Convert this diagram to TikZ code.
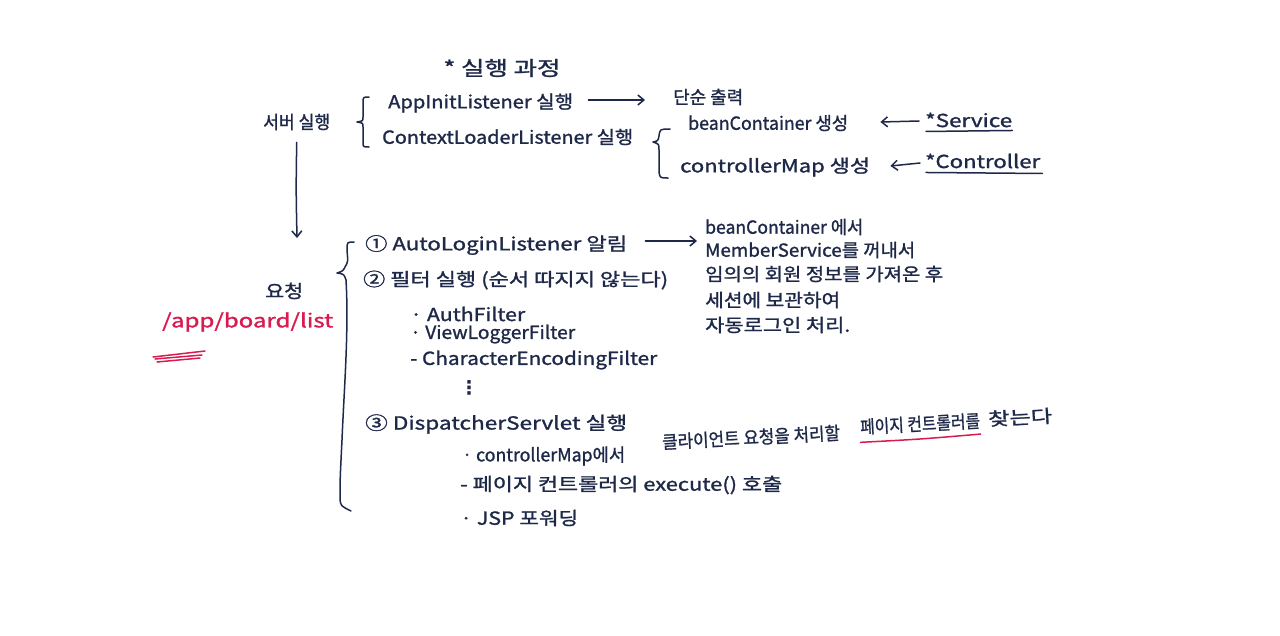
\documentclass[tikz,border=0pt]{standalone}
\usepackage{fontspec}
\setmainfont{Noto Sans CJK KR}[FakeBold=1.2]
\newfontfamily\dejavu{DejaVu Sans}
\usetikzlibrary{arrows.meta}
\definecolor{ink}{HTML}{1E2848}
\definecolor{pen}{HTML}{D81B50}
\newcommand{\fw}[2]{\resizebox{#1pt}{\height}{#2}}
\begin{document}
\begin{tikzpicture}[x=1pt,y=-1pt,
  every node/.style={inner sep=0pt},
  hw/.style={text=ink,font=\fontsize{18}{20}\selectfont,anchor=west},
  hwr/.style={text=pen,font=\fontsize{19}{21}\selectfont,anchor=west},
  stroke/.style={draw=ink,line width=1.5pt,line cap=round,line join=round},
  redstroke/.style={draw=pen,line width=1.5pt,line cap=round},
  arr/.style={stroke,-{Straight Barb[length=6pt,width=10pt]}}]
\useasboundingbox[fill=white] (0,0) rectangle (1280,635);
% title
\node[hw,anchor=center,font=\fontsize{20}{22}\selectfont] (title) at (502,68) {\fw{117}{* 실행 과정}};
% server start
\node[hw] (server) at (263,122) {\fw{67}{서버 실행}};
\node[hw] (appinit) at (388,103) {\fw{185}{AppInitListener 실행}};
\node[hw] (simple) at (673,97) {\fw{70}{단순 출력}};
\node[hw] (ctx) at (382,137) {\fw{251}{ContextLoaderListener 실행}};
\node[hw] (bean) at (688,123) {\fw{160}{beanContainer 생성}};
\node[hw] (svc) at (925,120) {\fw{87}{*Service}};
\node[hw] (cmap) at (680,167) {\fw{190}{controllerMap 생성}};
\node[hw] (ctrl) at (925,161) {\fw{115}{*Controller}};
\draw[stroke] ([xshift=1pt,yshift=-4pt]svc.south west) -- ([yshift=-3pt]svc.south east);
\draw[stroke] ([xshift=1pt,yshift=-4pt]ctrl.south west) -- ([xshift=2pt,yshift=-5pt]ctrl.south east);
% braces top
\draw[stroke] (369,97) .. controls (363,97) .. (363,103) -- (363,117) .. controls (363,121) .. (357,122) .. controls (363,123) .. (363,127) -- (363,142) .. controls (363,147) .. (369,147);
\draw[stroke] (670,129) .. controls (660,129) .. (659,136) .. controls (658,141) .. (653,142) .. controls (659,144) .. (659,150) -- (659,172) .. controls (660,178) .. (668,178);
% arrows top
\draw[arr] ([xshift=15pt,yshift=3pt]appinit.east) -- ([xshift=-28pt,yshift=-3pt]simple.west);
\draw[arr] ([xshift=-6pt,yshift=-1pt]svc.west) -- ([xshift=32pt,yshift=1pt]bean.east);
\draw[arr] ([xshift=-5pt,yshift=-2pt]ctrl.west) -- ([xshift=20pt,yshift=1pt]cmap.east);
% request
\node[hw] (req) at (265,291) {\fw{38}{요청}};
\coordinate (dtip) at (297,238);
\draw[arr] ([yshift=-12pt]server.south) .. controls (296,190) .. (dtip);
\node[hwr] (url) at (162,322) {\fw{171}{/app/board/list}};
\draw[redstroke] (153,357) -- (205,351);
\draw[redstroke] (155,359) -- (202,355);
\draw[redstroke] (157,362) -- (200,358);
% big brace
\draw[stroke] (354,242) .. controls (347,242) .. (347,250) .. controls (348,262) .. (345,267) .. controls (343,271) .. (337,273) .. controls (344,274) .. (346,280) .. controls (349,330) and (344,390) .. (342,440) .. controls (340,480) .. (340,500) .. controls (341,506) .. (351,511);
% step 1
\node[hw] (s1) at (365,245) {\fw{262}{① AutoLoginListener 알림}};
\node[hw] (n1) at (705,227) {\fw{158}{beanContainer 에서}};
\node[hw] (n2) at (705,250) {\fw{210}{MemberService를 꺼내서}};
\node[hw] (n3) at (705,274) {\fw{238}{임의의 회원 정보를 가져온 후}};
\node[hw] (n4) at (705,300) {\fw{135}{세션에 보관하여}};
\node[hw] (n5) at (705,325) {\fw{145}{자동로그인 처리.}};
\draw[arr] ([xshift=18pt,yshift=4pt]s1.east) -- ([xshift=-8pt,yshift=-14pt]n1.west);
% step 2
\node[hw] (s2) at (363,280) {\fw{305}{② 필터 실행 (순서 따지지 않는다)}};
\node[hw] (f1) at (410,314) {\fw{115}{· AuthFilter}};
\node[hw] (f2) at (410,334) {\fw{165}{· ViewLoggerFilter}};
\node[hw] (f3) at (410,360) {\fw{247}{- CharacterEncodingFilter}};
\node[hw,anchor=center,font=\dejavu\bfseries\fontsize{19}{21}\selectfont] (dots) at (469,388) {⋮};
% step 3
\node[hw] (s3) at (365,424) {\fw{262}{③ DispatcherServlet 실행}};
\node[hw] (d1a) at (462,456) {\fw{163}{· controllerMap에서}};
\node[hw,rotate=3] (d1m) at (662,442) {\fw{178}{클라이언트 요청을 처리할}};
\node[hw,rotate=3] (d1b) at (860,427) {\fw{120}{페이지 컨트롤러를}};
\node[hw,rotate=3] (d1c) at (988,419) {\fw{64}{찾는다}};
\draw[redstroke] ([yshift=-7pt]d1b.south west) .. controls ([yshift=-7pt]d1b.south) .. ([yshift=-5pt]d1b.south east);
\node[hw] (d2) at (460,485) {\fw{322}{- 페이지 컨트롤러의 execute() 호출}};
\node[hw] (d3) at (460,518) {\fw{118}{· JSP 포워딩}};
\end{tikzpicture}
\end{document}
